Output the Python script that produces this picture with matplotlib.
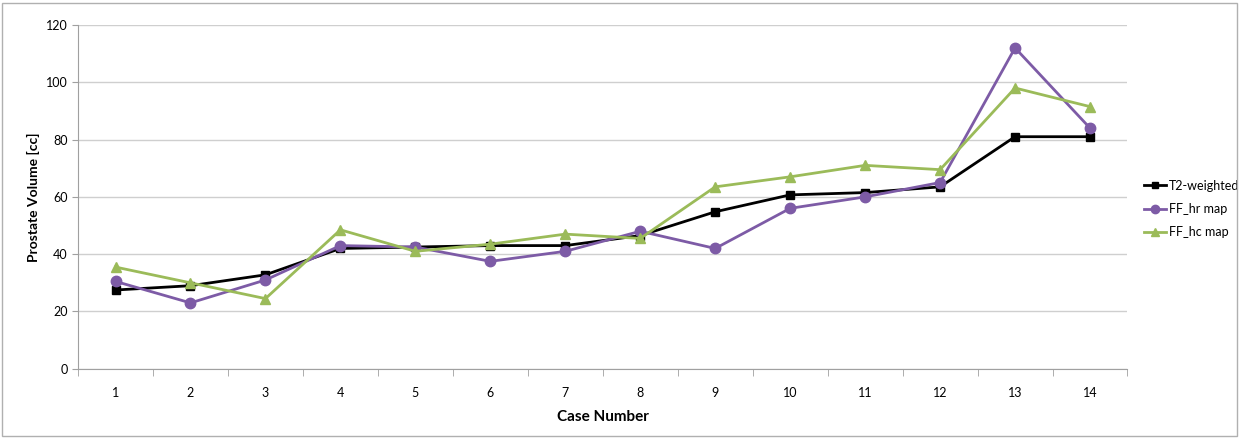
import numpy as np
import matplotlib
matplotlib.use("Agg")
import matplotlib.pyplot as plt
from matplotlib.ticker import FixedLocator

plt.rcParams['font.family'] = ['Lato', 'DejaVu Sans']

cases = list(range(1, 15))
t2_weighted = [27.5, 29, 32.8, 42, 42.5, 43, 43, 46.5, 54.8, 60.7, 61.5, 63.5, 81, 81]
ff_hr_map = [30.5, 23, 31, 43, 42.5, 37.5, 41, 48, 42, 56, 60, 65, 112, 84]
ff_hc_map = [35.5, 30, 24.5, 48.5, 41, 43.5, 47, 45.5, 63.5, 67, 71, 69.5, 98, 91.5]

fig = plt.figure(figsize=(12.39, 4.38), dpi=100)
ax = fig.add_axes([0.063, 0.158, 0.847, 0.785])

ax.plot(cases, t2_weighted, color='black', marker='s', markersize=6, linewidth=2, label='T2-weighted')
ax.plot(cases, ff_hr_map, color='#7D5BA6', marker='o', markersize=7.5, linewidth=2, label='FF_hr map')
ax.plot(cases, ff_hc_map, color='#9BBB59', marker='^', markersize=7, linewidth=2, label='FF_hc map')

ax.set_xlim(0.5, 14.5)
ax.set_ylim(0, 120)
ax.set_yticks(np.arange(0, 121, 20))
ax.set_xticks(cases)
ax.xaxis.set_minor_locator(FixedLocator(np.arange(0.5, 15, 1)))
ax.tick_params(axis='x', which='major', length=0, pad=13, labelsize=9)
ax.tick_params(axis='x', which='minor', length=5, color='#A0A0A0', direction='out')
ax.tick_params(axis='y', length=4, color='#A0A0A0', labelsize=9)
ax.grid(axis='y', color='#CFCFCF', linewidth=1)
ax.set_axisbelow(True)
for s in ['top', 'right']:
    ax.spines[s].set_visible(False)
for s in ['left', 'bottom']:
    ax.spines[s].set_color('#A0A0A0')

ax.set_xlabel('Case Number', fontweight='bold', fontsize=11, labelpad=8)
ax.set_ylabel('Prostate Volume [cc]', fontweight='bold', fontsize=10)

ax.legend(loc='center left', bbox_to_anchor=(1.005, 0.465), frameon=False,
          fontsize=9, handlelength=1.8, handletextpad=0.2, labelspacing=0.9, markerscale=0.8)

fig.patches.append(plt.Rectangle((0.002, 0.004), 0.996, 0.99, transform=fig.transFigure,
                                 fill=False, edgecolor='#B0B0B0', linewidth=1))

fig.savefig('out.png', dpi=100)
